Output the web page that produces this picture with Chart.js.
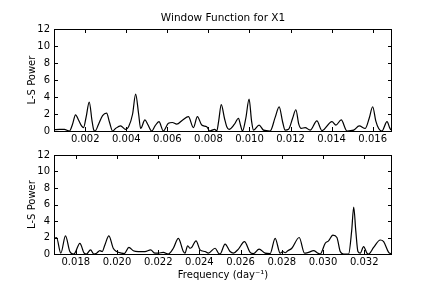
<!DOCTYPE html>
<html>
<head>
<meta charset="utf-8">
<script src="https://cdn.jsdelivr.net/npm/chart.js@4/dist/chart.umd.min.js"></script>
<style>
  html, body { margin: 0; padding: 0; background: #fff; }
  #wrap { position: relative; width: 436px; height: 291px; background: #fff; }
  canvas { position: absolute; left: 0; }
  #c1 { top: 0; }
  #c2 { top: 145px; }
</style>
</head>
<body>
<div id="wrap">
  <canvas id="c1" width="436" height="145"></canvas>
  <canvas id="c2" width="436" height="146"></canvas>
</div>
<script>
// ---- data (frequency in day^-1, L-S power) ----
const topFreq = [0.000478,0.000746,0.000990,0.001137,0.001234,0.001380,0.001527,0.001673,0.001820,0.001917,0.002040,0.002195,0.002330,0.002405,0.002478,0.002649,0.002844,0.003039,0.003185,0.003332,0.003478,0.003722,0.003966,0.004112,0.004307,0.004454,0.004600,0.004698,0.004907,0.005039,0.005234,0.005400,0.005590,0.005805,0.006049,0.006244,0.006454,0.006746,0.007024,0.007268,0.007463,0.007673,0.007917,0.008063,0.008307,0.008405,0.008500,0.008624,0.008780,0.008893,0.009005,0.009268,0.009463,0.009561,0.009659,0.009820,0.009980,0.010100,0.010195,0.010468,0.010683,0.011005,0.011250,0.011444,0.011620,0.011737,0.011902,0.012100,0.012259,0.012400,0.012517,0.012712,0.012956,0.013283,0.013527,0.014015,0.014210,0.014468,0.014746,0.015073,0.015346,0.015639,0.015830,0.016000,0.016150,0.016293,0.016454,0.016698,0.016880,0.016941];
const topPower = [0.15,0.2,0.2,0.05,0.0,0.8,1.9,1.3,0.6,0.4,1.6,3.4,1.2,0.2,0.0,0.8,1.8,2.1,1.0,0.0,0.3,0.6,0.2,0.5,2.0,4.35,2.0,0.3,1.3,0.8,0.0,0.6,1.1,0.0,0.9,1.0,0.8,1.3,1.7,0.4,1.7,0.7,0.5,0.0,0.2,0.0,1.2,3.1,1.5,0.5,0.2,0.8,1.5,0.7,0.0,1.5,3.75,1.2,0.1,0.7,0.1,0.0,1.6,2.85,1.0,0.1,0.2,1.5,2.5,0.8,0.3,0.4,0.1,1.2,0.05,1.1,0.7,1.3,0.0,0.1,0.6,0.3,1.5,2.85,1.2,0.3,0.0,1.1,0.15,0.7];

const botFreq = [0.01694,0.017062,0.017272,0.017499,0.017710,0.017872,0.017953,0.018196,0.018407,0.018520,0.018715,0.018877,0.019006,0.019168,0.019282,0.019411,0.019606,0.019816,0.019979,0.020222,0.020351,0.020578,0.020789,0.021032,0.021356,0.021632,0.021842,0.022004,0.022247,0.022490,0.022734,0.022977,0.023220,0.023300,0.023430,0.023543,0.023625,0.023835,0.024030,0.024273,0.024435,0.024759,0.024921,0.025002,0.025245,0.025488,0.025650,0.025893,0.026185,0.026461,0.026623,0.026898,0.027190,0.027433,0.027676,0.027919,0.028049,0.028162,0.028292,0.028486,0.028843,0.029102,0.029297,0.029540,0.029750,0.029864,0.030107,0.030269,0.030480,0.030674,0.030836,0.030998,0.031241,0.031390,0.031490,0.031590,0.031695,0.031808,0.031970,0.032132,0.032213,0.032456,0.032780,0.032942,0.033185,0.033348];
const botPower = [1.9,2.0,0.1,2.2,0.3,0.0,0.1,1.3,0.1,0.0,0.5,0.0,0.1,0.4,0.3,1.1,2.2,0.7,0.3,0.1,0.05,0.8,0.4,0.3,0.3,0.5,0.1,0.1,0.2,0.0,0.7,1.9,0.3,0.1,1.0,0.7,0.8,1.6,0.5,0.3,0.1,0.7,0.1,0.0,1.2,0.3,0.1,0.6,1.5,0.2,0.05,0.6,0.1,0.05,1.9,0.1,0.3,0.15,0.4,0.7,2.0,0.1,0.2,0.4,0.1,0.0,1.3,1.6,2.3,2.0,0.3,0.0,0.0,2.8,5.7,2.8,0.3,0.1,0.9,0.1,0.0,0.8,1.7,1.5,0.2,0.0];

const topTicks = [0.002,0.004,0.006,0.008,0.010,0.012,0.014,0.016];
const botTicks = [0.018,0.020,0.022,0.024,0.026,0.028,0.030,0.032];
const yTicks = [0,2,4,6,8,10,12];
const topRange = [0.000478, 0.016941];
const botRange = [0.016941, 0.033348];

const titleText = 'Window Function for X1';
const yLabel = 'L-S Power';
const xLabel = 'Frequency (day\u207B\u00B9)';

Chart.defaults.font.family = "'DejaVu Sans', sans-serif";
Chart.defaults.font.size = 10;
Chart.defaults.color = '#000';

const framePlugin = {
  id: 'frame',
  afterDatasetsDraw(chart) {
    const {ctx, chartArea: a, scales: {x, y}} = chart;
    ctx.save();
    ctx.strokeStyle = '#000';
    ctx.lineWidth = 1;
    ctx.beginPath();
    x.ticks.forEach(t => {
      const p = Math.round(x.getPixelForValue(t.value)) + 0.5;
      ctx.moveTo(p, a.bottom); ctx.lineTo(p, a.bottom - 4);
      ctx.moveTo(p, a.top); ctx.lineTo(p, a.top + 4);
    });
    y.ticks.forEach(t => {
      const p = Math.round(y.getPixelForValue(t.value)) + 0.5;
      ctx.moveTo(a.left, p); ctx.lineTo(a.left + 4, p);
      ctx.moveTo(a.right, p); ctx.lineTo(a.right - 4, p);
    });
    ctx.stroke();
    ctx.strokeRect(a.left + 0.5, a.top + 0.5, a.right - a.left - 1, a.bottom - a.top);
    ctx.restore();
  }
};

const titlePlugin = {
  id: 'axesTitle',
  afterDraw(chart, args, opts) {
    if (!opts.text) return;
    const {ctx, chartArea: a} = chart;
    ctx.save();
    ctx.fillStyle = '#000';
    ctx.font = "10.5px 'DejaVu Sans', sans-serif";
    ctx.textAlign = 'center';
    ctx.textBaseline = 'middle';
    ctx.fillText(opts.text, (a.left + a.right) / 2, a.top - 11);
    ctx.restore();
  }
};

function makeChart(id, freq, power, ticks, range, opts) {
  return new Chart(document.getElementById(id), {
    type: 'line',
    data: {
      datasets: [{
        data: freq.map((f, i) => ({x: f, y: power[i]})),
        borderColor: '#000',
        borderWidth: 1.2,
        pointRadius: 0,
        fill: false,
        cubicInterpolationMode: 'monotone'
      }]
    },
    options: {
      responsive: false,
      animation: false,
      devicePixelRatio: 1,
      layout: { padding: { left: 0, right: 44, top: opts.padTop, bottom: 0 } },
      plugins: {
        legend: { display: false },
        tooltip: { enabled: false },
        title: { display: false },
        axesTitle: { text: opts.title ? titleText : '' }
      },
      scales: {
        x: {
          type: 'linear',
          min: range[0], max: range[1],
          afterBuildTicks: s => { s.ticks = ticks.map(v => ({value: v})); },
          afterFit: s => { s.height = opts.xHeight; },
          grid: { display: false, drawTicks: false },
          border: { display: false },
          ticks: { autoSkip: false, maxRotation: 0, padding: 2, callback: v => v.toFixed(3) },
          title: opts.xTitle ? { display: true, text: xLabel, padding: { top: 0, bottom: 10 } } : { display: false }
        },
        y: {
          min: 0, max: 12,
          afterBuildTicks: s => { s.ticks = yTicks.map(v => ({value: v})); },
          afterFit: s => { s.width = 54; },
          grid: { display: false, drawTicks: false },
          border: { display: false },
          ticks: { padding: 4 },
          title: { display: true, text: yLabel, padding: { top: 26, bottom: 0 } }
        }
      }
    },
    plugins: [framePlugin, titlePlugin]
  });
}

makeChart('c1', topFreq, topPower, topTicks, topRange, { padTop: 29, xHeight: 14, title: true, xTitle: false });
makeChart('c2', botFreq, botPower, botTicks, botRange, { padTop: 7, xHeight: 37, title: false, xTitle: true });
</script>
</body>
</html>
